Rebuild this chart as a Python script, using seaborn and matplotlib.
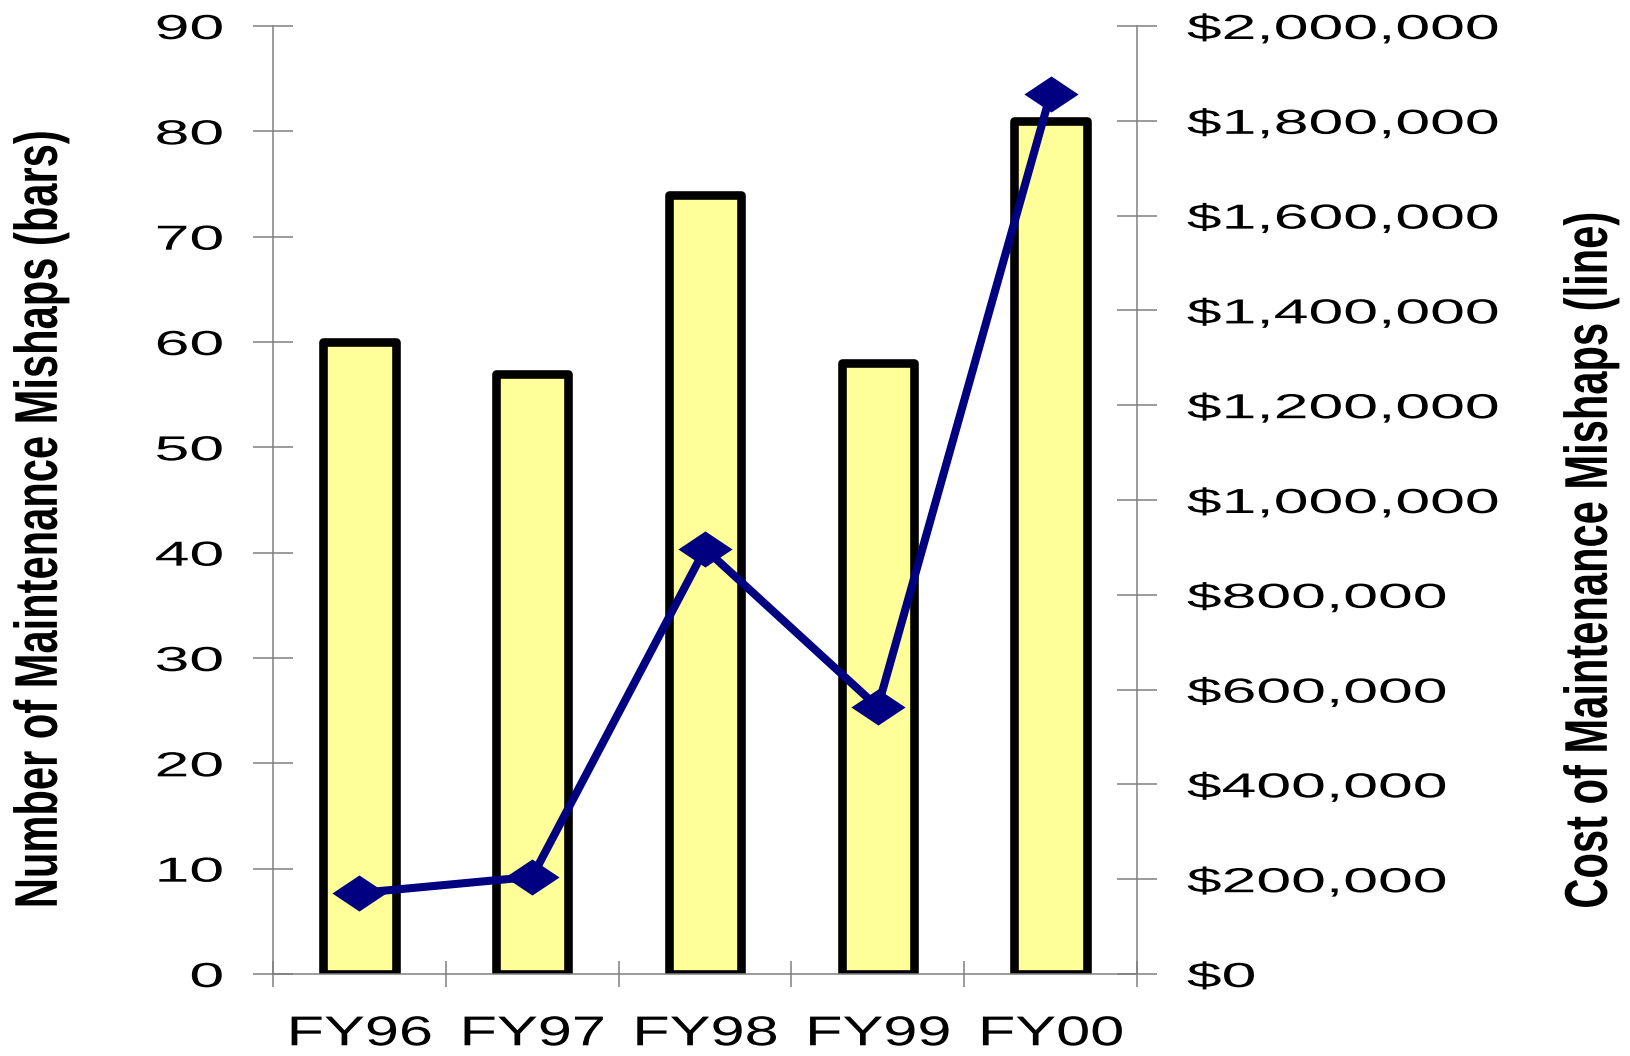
import numpy as np
import pandas as pd
import matplotlib
matplotlib.use("Agg")
import matplotlib.pyplot as plt
from matplotlib.path import Path
from matplotlib.transforms import Affine2D
from matplotlib.patheffects import AbstractPathEffect
from matplotlib.ticker import FuncFormatter, FixedLocator, NullFormatter
import seaborn as sns

# ---- data ----
years = ["FY96", "FY97", "FY98", "FY99", "FY00"]
mishap_counts = [60, 57, 74, 58, 81]
mishap_costs = [171000, 205000, 897000, 563000, 1857000]
left_ticks = [0, 10, 20, 30, 40, 50, 60, 70, 80, 90]
right_ticks = [0, 200000, 400000, 600000, 800000, 1000000,
               1200000, 1400000, 1600000, 1800000, 2000000]

df = pd.DataFrame({"year": years, "count": mishap_counts, "cost": mishap_costs})

sns.set_theme(style="white")
plt.rcParams["font.family"] = ["Liberation Sans", "DejaVu Sans"]
plt.rcParams["text.color"] = "black"
plt.rcParams["axes.labelcolor"] = "black"
plt.rcParams["xtick.color"] = "black"
plt.rcParams["ytick.color"] = "black"


class Stretch(AbstractPathEffect):
    """Draw text glyphs scaled along the text's own x / y directions."""

    def __init__(self, sx=1.0, sy=1.0, xanchor="center"):
        super().__init__()
        self.sx, self.sy, self.xanchor = sx, sy, xanchor

    def draw_path(self, renderer, gc, tpath, affine, rgbFace=None):
        v = tpath.vertices
        if len(v) == 0:
            renderer.draw_path(gc, tpath, affine, rgbFace)
            return
        x0, x1 = np.nanmin(v[:, 0]), np.nanmax(v[:, 0])
        y0, y1 = np.nanmin(v[:, 1]), np.nanmax(v[:, 1])
        xr = {"left": x0, "right": x1, "center": 0.5 * (x0 + x1)}[self.xanchor]
        yr = 0.5 * (y0 + y1)
        t = (Affine2D().translate(-xr, -yr).scale(self.sx, self.sy)
             .translate(xr, yr)) + affine
        renderer.draw_path(gc, tpath, t, rgbFace)


W, H = 1630, 1056
fig = plt.figure(figsize=(W / 100, H / 100), dpi=100)
ax = fig.add_axes([273 / W, 1 - 974 / H, (1137 - 273) / W, (974 - 26) / H])

grey = "#808080"
bar_fill = "#FFFF99"
navy = "#000080"

sns.barplot(data=df, x="year", y="count", ax=ax, color=bar_fill,
            width=0.42, saturation=1, edgecolor="black", linewidth=6.2)
for p in ax.patches:
    p.set_joinstyle("round")

ax2 = ax.twinx()
sns.pointplot(data=df, x="year", y="cost", ax=ax2, color=navy,
              errorbar=None, markers="D", linestyles="-")
diamond = Path([(-1.5, 0), (0, 1), (1.5, 0), (0, -1), (-1.5, 0)],
               [Path.MOVETO, Path.LINETO, Path.LINETO, Path.LINETO, Path.CLOSEPOLY])
for ln in ax2.lines:
    ln.set_marker(diamond)
    ln.set_markersize(39)
    ln.set_linewidth(5.8)
    ln.set_color(navy)
    ln.set_markerfacecolor(navy)
    ln.set_markeredgecolor(navy)
    ln.set_markeredgewidth(0)
    ln.set_solid_joinstyle("round")
    ln.set_clip_on(False)

# axes limits
for a in (ax, ax2):
    a.set_xlim(-0.5, len(years) - 0.5)
ax.set_ylim(0, 90)
ax2.set_ylim(0, 2000000)

# x ticks: category boundaries as major ticks, labels at centres
ax.xaxis.set_major_locator(FixedLocator(np.arange(-0.5, len(years), 1.0)))
ax.xaxis.set_major_formatter(NullFormatter())
ax.set_xticks(np.arange(len(years)), labels=years, minor=True)
ax.tick_params(axis="x", which="major", direction="inout", length=18.7,
               width=1.1, color=grey, bottom=True)
ax.tick_params(axis="x", which="minor", length=0, pad=29, labelsize=30,
               labelcolor="black", bottom=True)

# y ticks
ax.set_yticks(left_ticks)
ax.tick_params(axis="y", which="major", direction="inout", length=28.8,
               width=1.1, color=grey, left=True, pad=21.5, labelsize=25,
               labelcolor="black")
ax2.set_yticks(right_ticks)
ax2.yaxis.set_major_formatter(FuncFormatter(lambda v, pos: f"${v:,.0f}"))
ax2.tick_params(axis="y", which="major", direction="inout", length=28.8,
                width=1.1, color=grey, right=True, pad=21.5, labelsize=25,
                labelcolor="black")

ax.set_xlabel("")
ax.set_ylabel("")
ax2.set_xlabel("")
ax2.set_ylabel("")

# spines
for a in (ax, ax2):
    a.spines["top"].set_visible(False)
    a.grid(False)
ax.spines["right"].set_visible(False)
ax2.spines["left"].set_visible(False)
ax2.spines["bottom"].set_visible(False)
for s in ("left", "bottom"):
    ax.spines[s].set_color(grey)
    ax.spines[s].set_linewidth(1.1)
ax2.spines["right"].set_color(grey)
ax2.spines["right"].set_linewidth(1.1)

# wide tick-label lettering as in the original
for lbl in ax.get_yticklabels():
    lbl.set_path_effects([Stretch(sx=1.8, xanchor="right")])
for lbl in ax2.get_yticklabels():
    lbl.set_path_effects([Stretch(sx=1.8, xanchor="left")])
for lbl in ax.get_xticklabels(minor=True):
    lbl.set_path_effects([Stretch(sx=1.47, xanchor="center")])

# axis titles (tall, condensed bold lettering)
t1 = fig.text(41 / W, 1 - 519 / H, "Number of Maintenance Mishaps (bars)",
              rotation=90, ha="center", va="center", fontsize=30,
              fontweight="bold", color="black")
t2 = fig.text(1591 / W, 1 - 560 / H, "Cost of Maintenance Mishaps (line)",
              rotation=90, ha="center", va="center", fontsize=30,
              fontweight="bold", color="black")
for t in (t1, t2):
    t.set_path_effects([Stretch(sx=1.0, sy=1.45, xanchor="center")])

fig.savefig("out.png", dpi=100)
